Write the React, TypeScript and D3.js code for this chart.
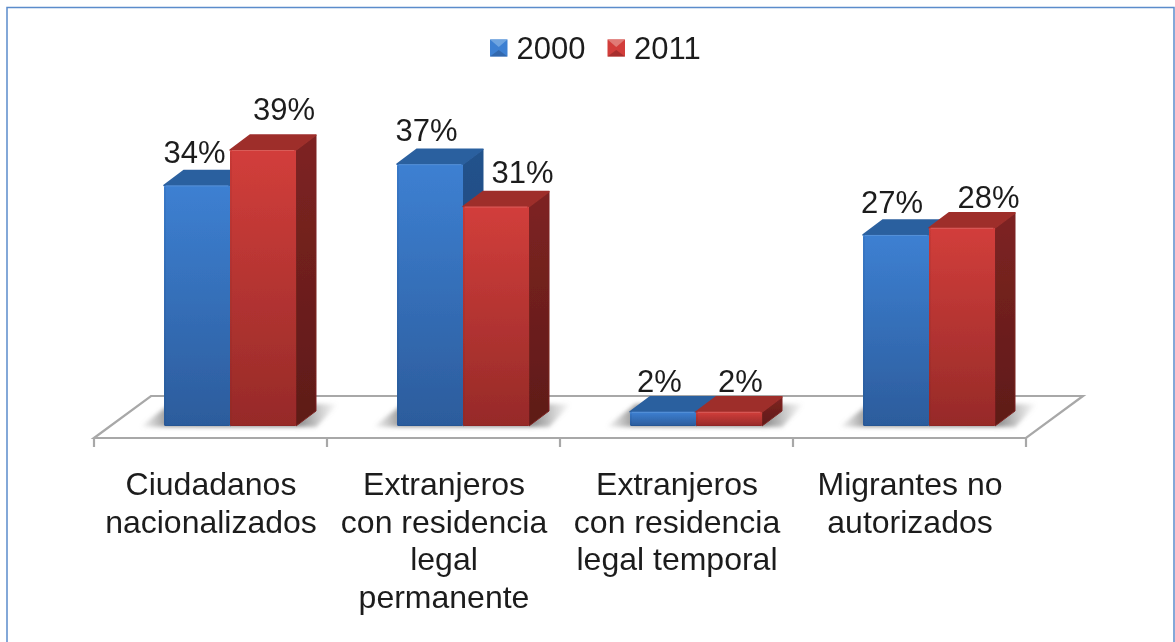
import React from "react";
import * as d3 from "d3";

const categories = [
  ["Ciudadanos", "nacionalizados"],
  ["Extranjeros", "con residencia", "legal", "permanente"],
  ["Extranjeros", "con residencia", "legal temporal"],
  ["Migrantes no", "autorizados"],
];
const years = ["2000", "2011"];
const values2000 = [34, 37, 2, 27];
const values2011 = [39, 31, 2, 28];

// hand placed labels in the original, offset from the top of each bar
const labelShift2000 = [[-2.5, -22], [-3.5, -23], [-3.5, -20], [-4, -22]];
const labelShift2011 = [[21, -30], [26.5, -24], [11.5, -20], [26.5, -20]];

const WIDTH = 1175;
const HEIGHT = 642;
const FONT = "'Liberation Sans', Arial, sans-serif";
const INK = "#1c1c1c";

// the pseudo 3D offset of the bars and of the floor
const BAR_DX = 20;
const BAR_DY = 15;
const FLOOR_DX = 57;
const FLOOR_DY = 42;

const x0 = d3.scaleBand<number>().domain(d3.range(categories.length)).range([94, 1026]);
const x1 = d3.scaleBand<string>().domain(years).range([70, 202]);
const y = d3.scaleLinear().domain([0, 39]).range([426, 150]);

const FRONT_Y = y(0) + 12;

const colors: Record<string, any> = {
  "2000": { top: "#3d80d2", bottom: "#2c5c9c", cap: "#2c609f", side: "#24528c", sideBottom: "#1e4474", light: "#6ea4e0", dark: "#1f4a80" },
  "2011": { top: "#d23e3b", bottom: "#962a28", cap: "#9e2f2c", side: "#7e2422", sideBottom: "#5e1a18", light: "#e07a76", dark: "#7a2220" },
};

function Bar({ cat, year, value }: { cat: number; year: string; value: number }) {
  const x = (x0(cat) as number) + (x1(year) as number);
  const w = x1.bandwidth();
  const top = y(value);
  const base = y(0);
  const c = colors[year];
  return (
    <g>
      <path
        d={`M${x + w + BAR_DX},${top - BAR_DY} L${x + w + BAR_DX},${base - BAR_DY} L${x + w},${base} L${x + w},${top} Z`}
        fill={`url(#side${year})`}
        stroke={c.side}
        strokeWidth="1"
        strokeLinejoin="round"
      />
      <path
        d={`M${x},${top} L${x + BAR_DX},${top - BAR_DY} L${x + w + BAR_DX},${top - BAR_DY} L${x + w},${top} Z`}
        fill={c.cap}
        stroke={c.cap}
        strokeWidth="1.5"
        strokeLinejoin="round"
      />
      <rect x={x} y={top} width={w} height={base - top} rx="1.5" fill={`url(#front${year})`} />
      <line x1={x + 1} x2={x + 1} y1={top + 2} y2={base - 1} stroke={c.dark} strokeWidth="1" opacity={0.25} />
      <line x1={x + 1} x2={x + w - 1} y1={base - 0.5} y2={base - 0.5} stroke={c.dark} strokeWidth="1" opacity={0.3} />
      <line x1={x + 2} x2={x + w - 2} y1={top + 0.5} y2={top + 0.5} stroke={c.light} strokeWidth="1" opacity={0.5} />
    </g>
  );
}

function Shadow({ cat }: { cat: number }) {
  const left = (x0(cat) as number) + (x1(years[0]) as number);
  const right = (x0(cat) as number) + (x1(years[1]) as number) + x1.bandwidth();
  const base = y(0);
  return (
    <path
      d={`M${left - 24},${base + 1} L${left + 6},${base - 22} L${right + 42},${base - 22} L${right + 20},${base + 1} Z`}
      fill="url(#shadow)"
      filter="url(#soft)"
    />
  );
}

export default function App() {
  const floorLeft = x0.range()[0];
  const floorRight = x0.range()[1];
  const ticks = [...x0.domain().map((d) => x0(d) as number), floorRight];

  return (
    <svg
      width={WIDTH}
      height={HEIGHT}
      style={{ position: "absolute", left: 0, top: 0, background: "#fff" }}
      fontFamily={FONT}
    >
      <defs>
        {years.map((yr) => (
          <React.Fragment key={yr}>
            <linearGradient id={`front${yr}`} x1="0" y1="0" x2="0" y2="1">
              <stop offset="0" stopColor={colors[yr].top} />
              <stop offset="1" stopColor={colors[yr].bottom} />
            </linearGradient>
            <linearGradient id={`side${yr}`} x1="0" y1="0" x2="0" y2="1">
              <stop offset="0" stopColor={colors[yr].side} />
              <stop offset="1" stopColor={colors[yr].sideBottom} />
            </linearGradient>
          </React.Fragment>
        ))}
        <linearGradient id="shadow" x1="0" y1="0" x2="1" y2="0">
          <stop offset="0" stopColor="#888" stopOpacity="0" />
          <stop offset="0.14" stopColor="#888" stopOpacity="0.85" />
          <stop offset="0.8" stopColor="#777" stopOpacity="0.85" />
          <stop offset="1" stopColor="#888" stopOpacity="0" />
        </linearGradient>
        <filter id="soft" x="-20%" y="-50%" width="140%" height="200%">
          <feGaussianBlur stdDeviation="2.2" />
        </filter>
        <filter id="resample" x="0" y="0" width={WIDTH} height={HEIGHT} filterUnits="userSpaceOnUse">
          <feGaussianBlur stdDeviation="0.5" />
        </filter>
      </defs>

      <path d={`M7,642 L7,7.5 L1174,7.5 L1174,642`} fill="none" stroke="#5b8ccb" strokeWidth="1.5" />

      <g filter="url(#resample)">
        {/* legend */}
        {years.map((yr, i) => {
          const lx = [490, 607.5][i];
          const c = colors[yr];
          const cx = lx + 8.75;
          return (
            <g key={yr}>
              <rect x={lx} y={39.5} width={17.5} height={17} fill={c.top} />
              <path d={`M${lx},39.5 L${cx},47 L${lx + 17.5},39.5 Z`} fill={c.light} />
              <path d={`M${lx},56.5 L${cx},50 L${lx + 17.5},56.5 Z`} fill={c.bottom} opacity={0.7} />
              <text x={lx + 26.5} y={59} fontSize={31} fill={INK}>
                {yr}
              </text>
            </g>
          );
        })}

        {/* floor */}
        <path
          d={`M${floorLeft},${FRONT_Y} L${floorLeft + FLOOR_DX},${FRONT_Y - FLOOR_DY} L${floorRight + FLOOR_DX},${FRONT_Y - FLOOR_DY} L${floorRight},${FRONT_Y} Z`}
          fill="#fff"
          stroke="#a8a8a8"
          strokeWidth="2.2"
        />
        {ticks.map((t) => (
          <line key={t} x1={t} x2={t} y1={FRONT_Y} y2={FRONT_Y + 9} stroke="#a8a8a8" strokeWidth="2.2" />
        ))}

        {categories.map((_, i) => (
          <Shadow key={i} cat={i} />
        ))}

        {categories.map((_, i) => (
          <g key={i}>
            <Bar cat={i} year="2000" value={values2000[i]} />
            <Bar cat={i} year="2011" value={values2011[i]} />
          </g>
        ))}

        {/* value labels */}
        {categories.map((_, i) => {
          const band = x0(i) as number;
          const w = x1.bandwidth();
          return (
            <g key={i} fontSize={31} fill={INK} textAnchor="middle">
              <text x={band + (x1("2000") as number) + w / 2 + labelShift2000[i][0]} y={y(values2000[i]) + labelShift2000[i][1]}>
                {values2000[i]}%
              </text>
              <text x={band + (x1("2011") as number) + w / 2 + labelShift2011[i][0]} y={y(values2011[i]) + labelShift2011[i][1]}>
                {values2011[i]}%
              </text>
            </g>
          );
        })}

        {/* category labels */}
        {categories.map((lines, i) => (
          <text key={i} fontSize={32} fill={INK} textAnchor="middle">
            {lines.map((line, j) => (
              <tspan key={j} x={(x0(i) as number) + x0.bandwidth() / 2 + 0.5} y={495 + j * 37.6}>
                {line}
              </tspan>
            ))}
          </text>
        ))}
      </g>
    </svg>
  );
}
